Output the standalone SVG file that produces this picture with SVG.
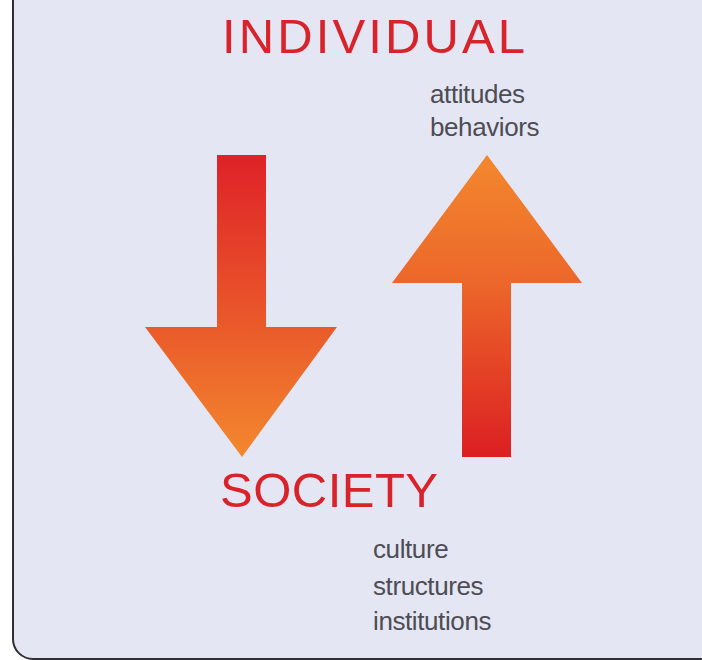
<svg xmlns="http://www.w3.org/2000/svg" width="702" height="660" viewBox="0 0 702 660">
  <defs>
    <linearGradient id="gDown" x1="0" y1="155" x2="0" y2="457" gradientUnits="userSpaceOnUse">
      <stop offset="0" stop-color="#df2228"/>
      <stop offset="0.57" stop-color="#ea5a2a"/>
      <stop offset="1" stop-color="#f3882e"/>
    </linearGradient>
    <linearGradient id="gUp" x1="0" y1="155" x2="0" y2="457" gradientUnits="userSpaceOnUse">
      <stop offset="0" stop-color="#f3882e"/>
      <stop offset="0.42" stop-color="#ec672a"/>
      <stop offset="1" stop-color="#dc1f22"/>
    </linearGradient>
  </defs>
  <style>
    .title { font-family: "Liberation Sans", Arial, sans-serif; font-size: 49px; fill: #d8232a; }
    .label { font-family: "Liberation Sans", Arial, sans-serif; font-size: 26px; fill: #4d4d53; letter-spacing: -0.4px; }
  </style>
  <rect x="0" y="0" width="702" height="660" fill="#ffffff"/>
  <rect id="panel" x="13" y="-30" width="706" height="689" rx="20" ry="20" fill="#e4e6f3" stroke="#2e2e33" stroke-width="2"/>

  <g id="individual">
    <text class="title" x="222" y="53" textLength="303" lengthAdjust="spacing">INDIVIDUAL</text>
  </g>
  <g id="individual-labels">
    <text class="label" x="430" y="103">attitudes</text>
    <text class="label" x="430" y="136">behaviors</text>
  </g>

  <g id="society">
    <text class="title" x="220" y="507" textLength="218" lengthAdjust="spacing">SOCIETY</text>
  </g>
  <g id="society-labels">
    <text class="label" x="373" y="558">culture</text>
    <text class="label" x="373" y="595">structures</text>
    <text class="label" x="373" y="630">institutions</text>
  </g>

  <g id="connectors">
    <polygon id="arrow-down" points="217,155 266,155 266,327 337,327 242,457 145,327 217,327" fill="url(#gDown)"/>
    <polygon id="arrow-up" points="487,155 582,283 511,283 511,457 462,457 462,283 392,283" fill="url(#gUp)"/>
  </g>
</svg>
